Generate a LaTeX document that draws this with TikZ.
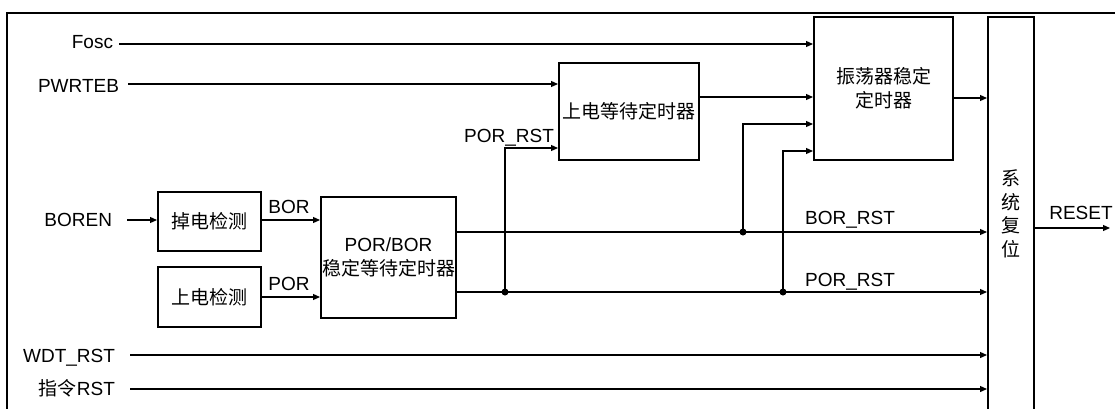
\documentclass[tikz,border=0pt]{standalone}
\usepackage{fontspec}
\setmainfont{Liberation Sans}
\newfontfamily\cjk{Noto Sans CJK SC}
\usetikzlibrary{arrows.meta,calc}
\begin{document}
\begin{tikzpicture}[x=1bp,y=-1bp,
  every node/.style={font=\fontsize{19bp}{24bp}\selectfont, inner sep=0pt, outer sep=0pt},
  box/.style={draw, line width=1.2bp, align=center},
  wire/.style={line width=1.2bp},
  arr/.style={wire, -{Triangle[length=7bp,width=6bp]}, shorten >=1bp},
  jdot/.style={circle, fill, inner sep=0pt, minimum size=7bp},
  lbl/.style={anchor=base east},
  sig/.style={anchor=base},
]
\useasboundingbox (0,0) rectangle (1115,408);
% outer frame
\draw[line width=2.3bp] (7,440) -- (7,13) -- (1130,13);

% blocks
\node[box, minimum width=140bp, minimum height=97bp] (timer) at (629,111.5) {\cjk 上电等待定时器};
\node[box, minimum width=139bp, minimum height=143bp] (osc) at (883.5,88.5) {\cjk 振荡器稳定\\\cjk 定时器};
\node[box, minimum width=46bp, minimum height=423bp] (sys) at (1011,228.5) {};
\node[align=center, font=\fontsize{19bp}{23.5bp}\selectfont\cjk] (syst) at (1011,214) {系\\统\\复\\位};
\node[box, minimum width=103bp, minimum height=59bp] (bd) at (209.5,221.5) {\cjk 掉电检测};
\node[box, minimum width=103bp, minimum height=60bp] (pd) at (209.5,297) {\cjk 上电检测};
\node[box, minimum width=135bp, minimum height=121bp] (pb) at (388.5,257.5) {POR/BOR\\{\cjk 稳定等待定时器}};

% input labels
\node[lbl] (fosc) at (113,48) {Fosc};
\node[lbl] (pwrteb) at (119,92.5) {PWRTEB};
\node[lbl] (boren) at (112,226.5) {BOREN};
\node[lbl] (wdt) at (115,362) {WDT\_RST};
\node[lbl] (inst) at (115,395) {{\cjk 指令}RST};

% signal labels
\node[sig] (borl) at (289,213) {BOR};
\node[sig] (porl) at (289,290) {POR};
\node[sig] (porrst1) at (509,142) {POR\_RST};
\node[sig] (borrst) at (850,224) {BOR\_RST};
\node[sig] (porrst2) at (850,286) {POR\_RST};
\node[sig] (resetl) at (1081,219) {RESET};

% coordinates
\coordinate (fosc-s) at (119,44);
\coordinate (pwr-s) at (128,84);
\coordinate (bor-s) at (127,220);
\coordinate (wdt-s) at (130,355);
\coordinate (ins-s) at (130,389);
\coordinate (reset-e) at (1111,228);
\coordinate (j1) at (505,292);
\coordinate (j2) at (743,232);
\coordinate (j3) at (783,292);
\coordinate (k1) at (505,148);
\coordinate (k2) at (743,124);
\coordinate (k3) at (783,151);
\coordinate (t-out) at (699,97);
\coordinate (o-out) at (953,98);

% connectors
\draw[arr] (fosc-s) -- (fosc-s -| osc.west);
\draw[arr] (pwr-s) -- (pwr-s -| timer.west);
\draw[arr] (bor-s) -- (bor-s -| bd.west);
\draw[arr] (bd.east |- bor-s) -- (bor-s -| pb.west);
\draw[arr] (pd.east) -- (pd.east -| pb.west);
\draw[arr] (pb.east |- j2) -- (j2 -| sys.west);
\draw[arr] (pb.east |- j1) -- (j3 -| sys.west);
\draw[arr] (j1) -- (k1) -- (k1 -| timer.west);
\draw[arr] (j2) -- (k2) -- (k2 -| osc.west);
\draw[arr] (j3) -- (k3) -- (k3 -| osc.west);
\draw[arr] (t-out) -- (t-out -| osc.west);
\draw[arr] (o-out) -- (o-out -| sys.west);
\draw[arr] (sys.east |- reset-e) -- (reset-e);
\draw[arr] (wdt-s) -- (wdt-s -| sys.west);
\draw[arr] (ins-s) -- (ins-s -| sys.west);

% junction dots
\node[jdot] (d1) at (j1) {};
\node[jdot] (d2) at (j2) {};
\node[jdot] (d3) at (j3) {};
\end{tikzpicture}
\end{document}
